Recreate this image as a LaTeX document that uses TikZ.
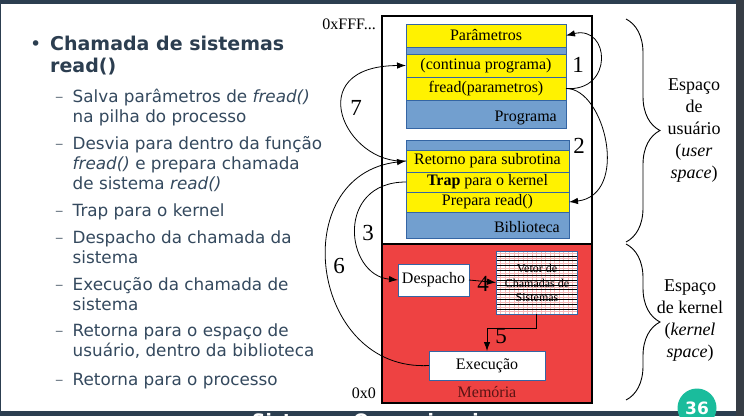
\documentclass[tikz,border=0pt]{standalone}
\usepackage{fontspec}
\setmainfont{Liberation Serif}
\newfontfamily\dejavu{DejaVu Sans}
\usetikzlibrary{arrows.meta,decorations.pathreplacing}
\definecolor{slate}{HTML}{2C3E50}
\definecolor{itemc}{HTML}{34495E}
\definecolor{ylw}{HTML}{FFF200}
\definecolor{blu}{HTML}{729FCF}
\definecolor{bord}{HTML}{3465A4}
\definecolor{memred}{HTML}{EE4242}
\definecolor{tealc}{HTML}{1ABC9C}
\definecolor{sidebar}{HTML}{363D45}
\definecolor{memtext}{HTML}{5A1414}
\definecolor{gridpink}{HTML}{F4B8B8}
\newcommand{\fsz}[1]{\fontsize{#1}{#1}\selectfont}
\begin{document}
\begin{tikzpicture}[x=1pt,y=-1pt,
  seg/.style={draw=bord, line width=0.9pt, inner sep=0pt, outer sep=0pt, anchor=north west, font=\fsz{16}},
  wbox/.style={draw=bord, line width=0.9pt, fill=white, inner sep=0pt, outer sep=0pt, anchor=north west, font=\fsz{16}},
  arr/.style={-{Latex[length=9pt,width=6.5pt]}, line width=0.8pt},
  num/.style={font=\fsz{23}, inner sep=0pt},
  lbl/.style={font=\fsz{16}, inner sep=0pt},
  itm/.style={anchor=base west, inner sep=0pt, font=\dejavu\fsz{16.8}, text=itemc},
  dsh/.style={anchor=base west, inner sep=0pt, font=\dejavu\fsz{16.8}, text=slate!65},
  ttl/.style={anchor=base west, inner sep=0pt, font=\dejavu\bfseries\fsz{19}, text=slate},
  side/.style={align=center, inner sep=0pt, font=\fontsize{18}{22}\selectfont},
  brc/.style={decorate, decoration={brace, amplitude=34pt, aspect=0.5}, line width=0.9pt}
]
\useasboundingbox (0,0) rectangle (744,416);
\clip (0,0) rectangle (744,416);
\fill[white] (0,0) rectangle (744,416);

% frame bars
\fill[slate] (0,0) rectangle (744,3.5);
\fill[slate] (0,410.7) rectangle (744,416);
\fill[slate] (0,0) rectangle (1,416);
\fill[sidebar] (736,0) rectangle (744,416);
\node[anchor=base west, inner sep=0pt, font=\dejavu\bfseries\fsz{18.5}, text=white] (foot) at (252,427) {Sistemas Operacionais};
\fill[tealc] (697,408) circle (19.5);
\node[anchor=base, inner sep=0pt, font=\dejavu\bfseries\fsz{17}, text=white] (pg) at (697,414) {36};

% left text
\node[anchor=base west, inner sep=0pt, font=\dejavu\fsz{19}, text=slate] (bul) at (30,50) {•};
\node[ttl] (t1) at (50,50) {Chamada de sistemas};
\node[ttl] (t2) at (50,72) {read()};
\node[dsh] (d1) at (55,102) {–};
\node[itm] (i1a) at (72.5,102) {Salva parâmetros de \textit{fread()}};
\node[itm] (i1b) at (72.5,122) {na pilha do processo};
\node[dsh] (d2) at (55,149) {–};
\node[itm] (i2a) at (72.5,149) {Desvia para dentro da função};
\node[itm] (i2b) at (72.5,169) {\textit{fread()} e prepara chamada};
\node[itm] (i2c) at (72.5,189) {de sistema \textit{read()}};
\node[dsh] (d3) at (55,216.5) {–};
\node[itm] (i3a) at (72.5,216.5) {Trap para o kernel};
\node[dsh] (d4) at (55,243) {–};
\node[itm] (i4a) at (72.5,243) {Despacho da chamada da};
\node[itm] (i4b) at (72.5,263) {sistema};
\node[dsh] (d5) at (55,290) {–};
\node[itm] (i5a) at (72.5,290) {Execução da chamada de};
\node[itm] (i5b) at (72.5,310) {sistema};
\node[dsh] (d6) at (55,336.5) {–};
\node[itm] (i6a) at (72.5,336.5) {Retorna para o espaço de};
\node[itm] (i6b) at (72.5,356.5) {usuário, dentro da biblioteca};
\node[dsh] (d7) at (55,385) {–};
\node[itm] (i7a) at (72.5,385) {Retorna para o processo};

% memory
\draw[line width=1.1pt, fill=white] (382,16) rectangle (592,244);
\draw[line width=1.1pt, fill=memred] (382,244) rectangle (592,403);
\node[lbl, anchor=east] (hi) at (376,24) {0xFFF...};
\node[lbl, anchor=east] (lo) at (376,393) {0x0};
\node[lbl, text=memtext] (mem) at (487,392) {Memória};

% program block
\node[seg, fill=ylw, minimum width=160, minimum height=23] (par) at (406,24) {Parâmetros};
\node[seg, fill=blu, minimum width=160, minimum height=7] (band1) at (406,47) {};
\node[seg, fill=ylw, minimum width=160, minimum height=23] (cont) at (406,54) {(continua programa)};
\node[seg, fill=ylw, minimum width=160, minimum height=23] (fread) at (406,77) {fread(parametros)};
\node[seg, fill=blu, minimum width=160, minimum height=28] (prog) at (406,100) {};
\node[lbl, anchor=base east] (progt) at (557,121) {Programa};

% library block
\node[seg, fill=blu, minimum width=163, minimum height=10] (band2) at (406,140) {};
\node[seg, fill=ylw, minimum width=163, minimum height=22] (ret) at (406,150) {Retorno para subrotina};
\node[seg, fill=ylw, minimum width=163, minimum height=20] (trap) at (406,172) {\textbf{Trap} para o kernel};
\node[seg, fill=ylw, minimum width=163, minimum height=20] (prep) at (406,192) {Prepara read()};
\node[seg, fill=blu, minimum width=163, minimum height=26] (bib) at (406,212) {};
\node[lbl, anchor=base east] (bibt) at (560,232) {Biblioteca};

% kernel boxes
\node[wbox, minimum width=71, minimum height=32] (desp) at (398,264) {Despacho};
\node[wbox, minimum width=81, minimum height=63] (vet) at (496,251) {};
\foreach \k in {1,...,17} \draw[gridpink, line width=0.5pt] ({496+\k*4.5},251.5) -- ({496+\k*4.5},313.5);
\foreach \k in {0,...,12} \draw[gridpink, line width=0.5pt] (496.5,{253.4+\k*4.85}) -- (576.5,{253.4+\k*4.85});
\foreach \k in {1,...,12} \draw[black, line width=0.65pt] (496.5,{251+\k*4.85}) -- (576.5,{251+\k*4.85});
\draw[bord, line width=0.9pt] (vet.north west) rectangle (vet.south east);
\node[align=center, inner sep=0pt, font=\fontsize{12}{14.5}\selectfont, text=black] (vett) at (537,283) {Vetor de\\Chamadas de\\Sistemas};
\node[wbox, minimum width=116, minimum height=29] (exe) at (429,351) {Execução};

% arrows
\coordinate (k5) at (487,328);
\draw[arr] (fread.east) .. controls (614,92) and (610,25) .. (par.east);
\draw[arr] (fread.east) .. controls (605,88) and (630,195) .. (prep.east);
\draw[arr] (trap.west) .. controls (335,182) and (345,275) .. (desp.west);
\draw[arr] (desp.east) -- (vet.west);
\draw[arr] (vet.south) |- (k5) -- (exe.north);
\draw[arr] (exe.west) .. controls (310,372) and (285,175) .. (ret.west);
\draw[arr] (ret.west) .. controls (345,165) and (300,66) .. (cont.west);

\node[num] (n1) at (578,65) {1};
\node[num] (n2) at (579,146) {2};
\node[num] (n3) at (368,233) {3};
\node[num] (n4) at (483,284) {4};
\node[num] (n5) at (501,336) {5};
\node[num] (n6) at (339,266) {6};
\node[num] (n7) at (356,108) {7};

% braces
\coordinate (bt1) at (626,19);
\coordinate (bb1) at (626,242);
\coordinate (bt2) at (626,244);
\coordinate (bb2) at (626,400);
\draw[brc] (bt1) -- (bb1);
\draw[brc] (bt2) -- (bb2);
\node[side] (us) at (694,131) {Espaço\\de\\usuário\\(\textit{user}\\\textit{space})};
\node[side] (ks) at (690,321) {Espaço\\de kernel\\(\textit{kernel}\\\textit{space})};
\end{tikzpicture}
\end{document}
